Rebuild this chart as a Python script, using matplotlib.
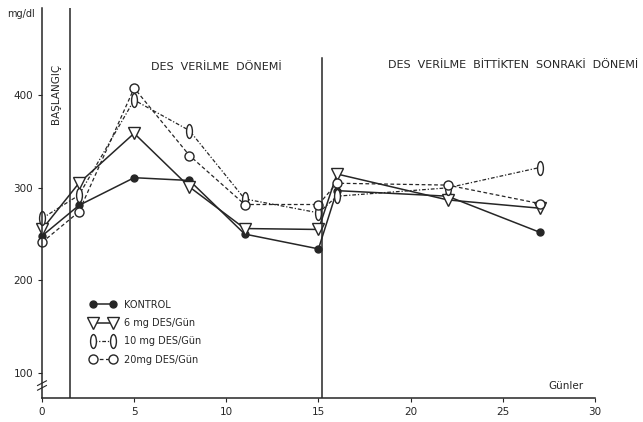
import matplotlib
matplotlib.use("Agg")
import matplotlib.pyplot as plt
import matplotlib.path as mpath
from matplotlib.transforms import Affine2D

# days of measurement
days = [0, 2, 5, 8, 11, 15, 16, 22, 27]

kontrol = [248, 281, 311, 308, 250, 234, 297, 291, 252]
des_6 = [255, 305, 359, 301, 256, 255, 315, 287, 278]
des_10 = [267, 292, 395, 362, 288, 273, 291, 300, 322]
des_20 = [241, 274, 408, 335, 282, 282, 305, 303, 283]

labels = ["KONTROL", "6 mg DES/Gün", "10 mg DES/Gün", "20mg DES/Gün"]
x_ticks = [0, 5, 10, 15, 20, 25, 30]
y_ticks = [100, 200, 300, 400]

ink = "#262626"
ellipse = mpath.Path.unit_circle().transformed(Affine2D().scale(0.42, 1.0))

fig = plt.figure(figsize=(6.43, 4.22), dpi=100)
ax = fig.add_axes([0.0653, 0.0569, 0.86, 0.924])

ax.plot(days, kontrol, color=ink, lw=1.1, marker="o", ms=5,
        mfc=ink, mec=ink, label=labels[0], clip_on=False)
ax.plot(days, des_6, color=ink, lw=1.1, marker="v", ms=9,
        mfc="white", mec=ink, mew=1.0, label=labels[1], clip_on=False)
ax.plot(days, des_10, color=ink, lw=0.9, ls=(0, (3, 1.5, 1, 1.5)), marker=ellipse, ms=10,
        mfc="white", mec=ink, mew=1.0, label=labels[2], clip_on=False)
ax.plot(days, des_20, color=ink, lw=0.9, ls=(0, (3, 2)), marker="o", ms=6.5,
        mfc="white", mec=ink, mew=1.0, label=labels[3], clip_on=False)

# period separators
ax.axvline(1.5, ymin=0, ymax=1, color=ink, lw=1.1)
ax.plot([15.2, 15.2], [72.7, 441], color=ink, lw=1.1)

ax.set_xlim(0, 30)
ax.set_ylim(72.7, 494.5)
ax.set_xticks(x_ticks)
ax.set_yticks(y_ticks)
ax.tick_params(labelsize=7.5, length=3, width=0.8, colors=ink)
for s in ["top", "right"]:
    ax.spines[s].set_visible(False)
for s in ["left", "bottom"]:
    ax.spines[s].set_color(ink)
    ax.spines[s].set_linewidth(1.1)

# axis break
for dy in (0.0, 0.012):
    ax.plot([-0.008, 0.008], [0.02 + dy, 0.032 + dy], transform=ax.transAxes,
            color=ink, lw=0.8, clip_on=False)

ax.text(-0.012, 0.985, "mg/dl", transform=ax.transAxes, ha="right", va="center",
        fontsize=7, color=ink)
ax.text(0.98, 0.03, "Günler", transform=ax.transAxes, ha="right", va="center",
        fontsize=7.5, color=ink)
ax.text(0.025, 0.78, "BAŞLANGIÇ", transform=ax.transAxes, rotation=90,
        ha="center", va="center", fontsize=7.5, color=ink)
ax.text(0.315, 0.85, "DES  VERİLME  DÖNEMİ", transform=ax.transAxes,
        ha="center", va="center", fontsize=8, color=ink)
ax.text(0.625, 0.855, "DES  VERİLME  BİTTİKTEN  SONRAKİ  DÖNEMİ", transform=ax.transAxes,
        ha="left", va="center", fontsize=8, color=ink)

leg = ax.legend(loc="upper left", bbox_to_anchor=(0.08, 0.262), frameon=False,
                fontsize=7, numpoints=2, handlelength=2.7, handletextpad=0.8,
                labelspacing=0.85, borderaxespad=0)
for t in leg.get_texts():
    t.set_color(ink)

fig.savefig("out.png", dpi=100)
